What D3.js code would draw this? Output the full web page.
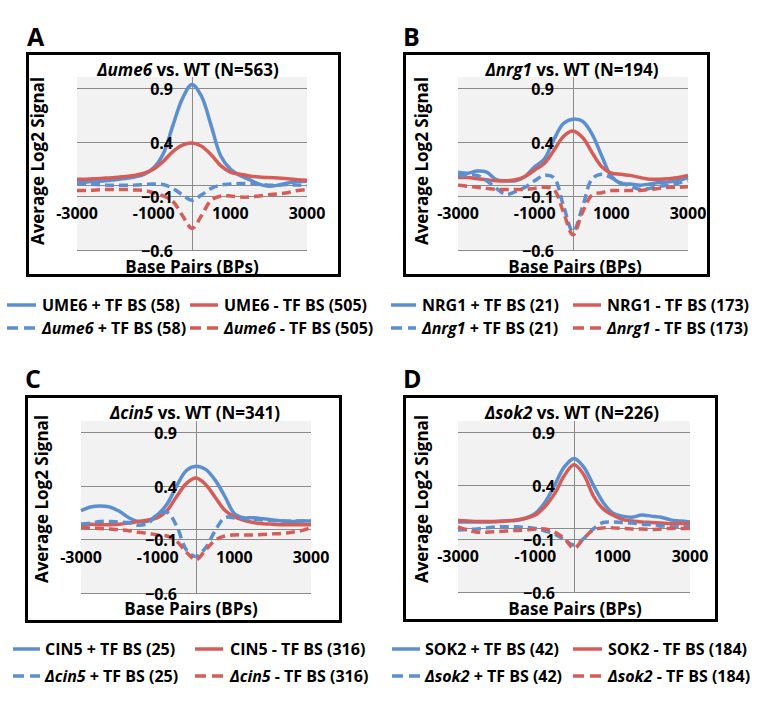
<!DOCTYPE html>
<html><head><meta charset="utf-8">
<script src="https://cdn.jsdelivr.net/npm/d3@7"></script>
<style>
html,body{margin:0;padding:0;background:#fff;}
svg{display:block;font-family:'Open Sans',Lato,sans-serif;font-weight:bold;}
</style></head>
<body>
<svg id="chart" width="761" height="706"></svg>
<script>
// ---- data ----
const bp = [-3000,-2750,-2500,-2250,-2000,-1750,-1500,-1250,-1000,-750,-500,-250,0,250,500,750,1000,1250,1500,1750,2000,2250,2500,2750,3000];
const yTicks = [-0.6,-0.1,0.4,0.9];
const xTicks = [-3000,-1000,1000,3000];

// Panel A: UME6
const ume6Plus  = [0.025,0.03,0.035,0.04,0.05,0.06,0.075,0.1,0.16,0.29,0.55,0.80,0.93,0.82,0.55,0.27,0.15,0.09,0.05,0.01,-0.01,0.0,0.02,0.03,0.035];
const ume6Minus = [0.055,0.055,0.06,0.065,0.07,0.08,0.09,0.11,0.15,0.22,0.31,0.37,0.39,0.36,0.28,0.18,0.12,0.10,0.085,0.075,0.07,0.065,0.06,0.05,0.045];
const dUme6Plus = [0.015,0.01,0.005,0.0,0.0,0.0,0.0,0.005,0.01,0.005,-0.03,-0.09,-0.14,-0.09,-0.03,0.0,0.01,0.015,0.015,0.01,0.0,0.0,0.005,0.0,-0.005];
const dUme6Minus= [-0.05,-0.05,-0.045,-0.04,-0.04,-0.04,-0.045,-0.05,-0.07,-0.1,-0.15,-0.28,-0.40,-0.28,-0.14,-0.1,-0.1,-0.11,-0.11,-0.1,-0.09,-0.08,-0.07,-0.05,-0.04];

// Panel B: NRG1
const nrg1Plus  = [0.12,0.11,0.13,0.12,0.05,0.04,0.04,0.08,0.17,0.24,0.42,0.57,0.61,0.59,0.47,0.27,0.08,0.015,0.01,0.0,0.01,0.025,0.03,0.045,0.07];
const nrg1Minus = [0.07,0.07,0.06,0.05,0.04,0.04,0.05,0.08,0.14,0.2,0.32,0.45,0.5,0.44,0.3,0.17,0.11,0.1,0.09,0.07,0.055,0.055,0.06,0.07,0.09];
const dNrg1Plus = [0.09,0.09,0.09,0.04,-0.03,-0.085,-0.06,-0.02,0.04,0.09,0.07,-0.19,-0.43,-0.2,0.06,0.1,0.07,0.02,-0.01,-0.04,-0.03,-0.01,0.0,0.02,0.04];
const dNrg1Minus= [0.0,-0.01,-0.02,-0.03,-0.04,-0.04,-0.04,-0.04,-0.03,-0.02,-0.04,-0.25,-0.46,-0.25,-0.09,-0.07,-0.05,-0.05,-0.05,-0.05,-0.04,-0.03,-0.02,-0.02,-0.015];

// Panel C: CIN5
const cin5Plus  = [0.165,0.2,0.21,0.2,0.16,0.1,0.065,0.07,0.13,0.23,0.4,0.54,0.58,0.55,0.45,0.3,0.14,0.1,0.1,0.09,0.08,0.07,0.065,0.07,0.07];
const cin5Minus = [0.04,0.04,0.035,0.035,0.04,0.05,0.065,0.08,0.1,0.17,0.3,0.42,0.47,0.41,0.29,0.17,0.11,0.075,0.055,0.045,0.04,0.035,0.035,0.035,0.035];
const dCin5Plus = [0.04,0.05,0.065,0.065,0.06,0.055,0.03,0.05,0.13,0.15,0.02,-0.2,-0.26,-0.18,-0.02,0.1,0.1,0.09,0.085,0.08,0.075,0.07,0.07,0.07,0.07];
const dCin5Minus= [0.01,0.005,0.0,-0.005,-0.01,-0.02,-0.035,-0.045,-0.06,-0.07,-0.12,-0.22,-0.29,-0.2,-0.11,-0.07,-0.06,-0.06,-0.06,-0.055,-0.05,-0.045,-0.035,-0.02,0.01];

// Panel D: SOK2
const sok2Plus  = [0.055,0.055,0.055,0.055,0.06,0.065,0.07,0.09,0.135,0.24,0.4,0.57,0.65,0.57,0.4,0.24,0.14,0.11,0.1,0.12,0.11,0.1,0.075,0.065,0.055];
const sok2Minus = [0.07,0.065,0.06,0.06,0.06,0.065,0.075,0.09,0.12,0.2,0.32,0.49,0.59,0.5,0.3,0.18,0.12,0.08,0.065,0.055,0.05,0.045,0.04,0.04,0.04];
const dSok2Plus = [-0.02,-0.015,-0.01,0.0,0.01,0.01,0.01,0.005,-0.005,-0.03,-0.06,-0.11,-0.16,-0.1,-0.01,0.05,0.055,0.05,0.045,0.035,0.03,0.02,0.01,0.01,0.01];
const dSok2Minus= [0.01,-0.02,-0.04,-0.04,-0.035,-0.03,-0.025,-0.02,-0.01,-0.01,-0.04,-0.1,-0.19,-0.1,-0.02,0.0,0.0,-0.005,-0.01,-0.01,-0.015,-0.01,-0.005,-0.005,-0.005];

const panelLetters = ["A","B","C","D"];
const geneNames = ["UME6","NRG1","CIN5","SOK2"];
const deltaNames = ["ume6","nrg1","cin5","sok2"];
const totalN = [563,194,341,226];
const plusN = [58,21,25,42];
const minusN = [505,173,316,184];
const seriesSets = [
  [ume6Plus, ume6Minus, dUme6Plus, dUme6Minus],
  [nrg1Plus, nrg1Minus, dNrg1Plus, dNrg1Minus],
  [cin5Plus, cin5Minus, dCin5Plus, dCin5Minus],
  [sok2Plus, sok2Minus, dSok2Plus, dSok2Minus]
];

// ---- layout ----
const BLUE = "#5b8fd0", RED = "#d65c57";
const layouts = [
  {box:[26,52,341,277], plot:[77,77,307,250], title:[188,76], ytitle:[38,161], xtitle:[192,273], letter:[27,46],
   legend:{rows:[305,328], cols:[[7,36,42],[190,218,224]]}},
  {box:[403,52,710,277], plot:[458,77,688,250], title:[572,76], ytitle:[422,161], xtitle:[575,273], letter:[403,46],
   legend:{rows:[305,328], cols:[[391,416,422],[573,601,607]]}},
  {box:[25,395,342,623], plot:[81,421,311,593], title:[195,419], ytitle:[42,499], xtitle:[191,615], letter:[25,388],
   legend:{rows:[649,676], cols:[[13,40,45],[195,223,230]]}},
  {box:[403,395,718,622], plot:[458,421,690,592], title:[572,419], ytitle:[422,499], xtitle:[575,615], letter:[403,388],
   legend:{rows:[649,676], cols:[[392,420,425],[573,602,608]]}}
];

const svg = d3.select("#chart");

layouts.forEach((L, i) => {
  const g = svg.append("g");
  const [bx0,by0,bx1,by1] = L.box;
  g.append("rect").attr("x",bx0+1.5).attr("y",by0+1.5).attr("width",bx1-bx0-3).attr("height",by1-by0-3)
    .attr("fill","#fff").attr("stroke","#000").attr("stroke-width",3);
  const [px0,py0,px1,py1] = L.plot;
  const x = d3.scaleLinear().domain([-3000,3000]).range([px0,px1]);
  const y = d3.scaleLinear().domain([-0.6,1.0]).range([py1,py0]);

  g.append("rect").attr("x",px0).attr("y",py0).attr("width",px1-px0).attr("height",py1-py0).attr("fill","#f2f2f2");

  // gridlines
  g.append("g").selectAll("line").data(yTicks).join("line")
    .attr("x1",px0).attr("x2",px1).attr("y1",d=>Math.round(y(d))+0.5).attr("y2",d=>Math.round(y(d))+0.5)
    .attr("stroke","#8a8a8a").attr("stroke-width",1);
  // axes at zero
  g.append("line").attr("x1",px0).attr("x2",px1).attr("y1",Math.round(y(0))+0.5).attr("y2",Math.round(y(0))+0.5)
    .attr("stroke","#8a8a8a").attr("stroke-width",1);
  g.append("line").attr("x1",Math.round(x(0))+0.5).attr("x2",Math.round(x(0))+0.5).attr("y1",py0).attr("y2",py1)
    .attr("stroke","#8a8a8a").attr("stroke-width",1);

  // lines
  const line = d3.line().x((d,k)=>x(bp[k])).y(d=>y(d)).curve(d3.curveCatmullRom.alpha(0.5));
  const styles = [
    {c:BLUE, dash:null},{c:RED, dash:null},{c:BLUE, dash:"9,5"},{c:RED, dash:"9,5"}
  ];
  seriesSets[i].forEach((vals, s) => {
    g.append("path").attr("d", line(vals)).attr("fill","none")
      .attr("stroke", styles[s].c).attr("stroke-width",3.5)
      .attr("stroke-dasharray", styles[s].dash)
      .attr("stroke-linejoin","round");
  });

  // tick labels
  const x0 = x(0), y0 = y(0);
  g.append("g").selectAll("text").data(yTicks).join("text")
    .attr("x", x0-19).attr("y", d=>y(d)+7).attr("text-anchor","end")
    .attr("font-size",16).attr("fill","#000").text(d=>d3.format(".1f")(d));
  g.append("g").selectAll("text").data(xTicks).join("text")
    .attr("x", d=>x(d)).attr("y", y0+34).attr("text-anchor","middle")
    .attr("font-size",16).attr("fill","#000").text(d=>d);

  // title
  const t = g.append("text").attr("x",L.title[0]).attr("y",L.title[1]).attr("text-anchor","middle")
    .attr("font-size",17).attr("fill","#000");
  t.append("tspan").attr("font-style","italic").text("\u0394"+deltaNames[i]);
  t.append("tspan").text(" vs. WT (N="+totalN[i]+")");

  // axis titles
  g.append("text").attr("transform",`translate(${L.ytitle[0]+6},${L.ytitle[1]}) rotate(-90)`)
    .attr("text-anchor","middle").attr("font-size",17).attr("fill","#000").text("Average Log2 Signal");
  g.append("text").attr("x",L.xtitle[0]).attr("y",L.xtitle[1]).attr("text-anchor","middle")
    .attr("font-size",17).attr("fill","#000").text("Base Pairs (BPs)");

  // panel letter
  g.append("text").attr("x",L.letter[0]).attr("y",L.letter[1]).attr("font-size",25).attr("fill","#000").text(panelLetters[i]);

  // legend
  const items = [
    {c:BLUE, dash:null, it:geneNames[i], rest:" + TF BS ("+plusN[i]+")", italic:false, row:0, col:0},
    {c:RED, dash:null, it:geneNames[i], rest:" - TF BS ("+minusN[i]+")", italic:false, row:0, col:1},
    {c:BLUE, dash:"11,6", it:"\u0394"+deltaNames[i], rest:" + TF BS ("+plusN[i]+")", italic:true, row:1, col:0},
    {c:RED, dash:"11,6", it:"\u0394"+deltaNames[i], rest:" - TF BS ("+minusN[i]+")", italic:true, row:1, col:1}
  ];
  items.forEach(it => {
    const [lx0,lx1,tx] = L.legend.cols[it.col];
    const ly = L.legend.rows[it.row];
    g.append("line").attr("x1",lx0).attr("x2",lx1).attr("y1",ly).attr("y2",ly)
      .attr("stroke",it.c).attr("stroke-width",3.5).attr("stroke-dasharray",it.dash);
    const tt = g.append("text").attr("x",tx).attr("y",ly+6).attr("font-size",16).attr("fill","#000");
    tt.append("tspan").attr("font-style", it.italic ? "italic" : "normal").text(it.it);
    tt.append("tspan").text(it.rest);
  });
});
</script>
</body></html>
